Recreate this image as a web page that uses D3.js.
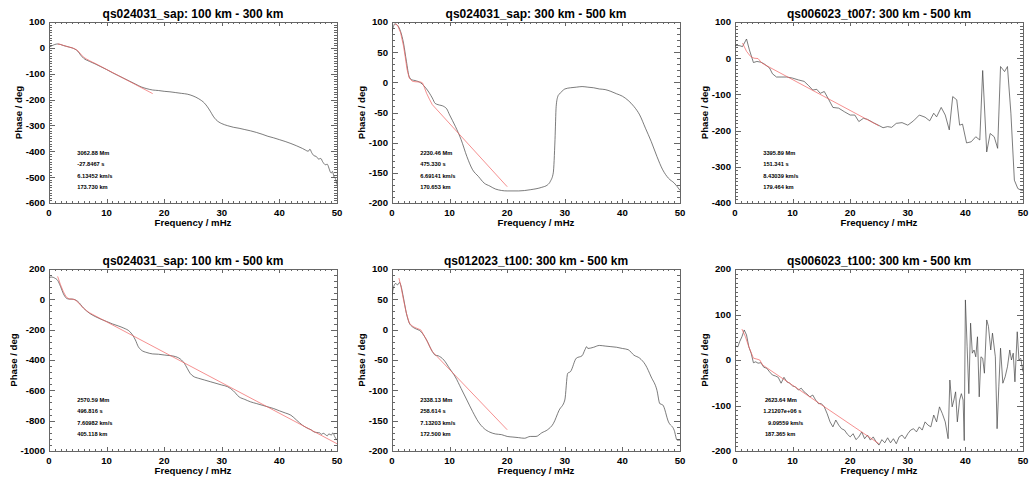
<!DOCTYPE html>
<html><head><meta charset="utf-8">
<script src="https://cdn.jsdelivr.net/npm/d3@7"></script>
<style>
body{margin:0;background:#fff;}
svg{display:block;font-family:"Liberation Sans",Arial,Helvetica,sans-serif;font-weight:bold;}
</style></head><body>
<svg id="c" width="1031" height="480"></svg>
<script>
// ---------- DATA ----------
const titles = [
  "qs024031_sap: 100 km - 300 km",
  "qs024031_sap: 300 km - 500 km",
  "qs006023_t007: 300 km - 500 km",
  "qs024031_sap: 100 km - 500 km",
  "qs012023_t100: 300 km - 500 km",
  "qs006023_t100: 300 km - 500 km"
];
const xLabel = "Frequency / mHz";
const yLabel = "Phase / deg";
const xTicks = [0, 10, 20, 30, 40, 50];

const p1YTicks = [-600, -500, -400, -300, -200, -100, 0, 100];
const p2YTicks = [-200, -150, -100, -50, 0, 50, 100];
const p3YTicks = [-400, -300, -200, -100, 0, 100];
const p4YTicks = [-1000, -800, -600, -400, -200, 0, 200];
const p5YTicks = [-200, -150, -100, -50, 0, 50, 100];
const p6YTicks = [-200, -100, 0, 100, 200];

const p1Notes = ["3062.88 Mm", "-27.8467 s", "6.13452 km/s", "173.730 km"];
const p2Notes = ["2230.46 Mm", "475.330 s", "6.69141 km/s", "170.653 km"];
const p3Notes = ["3395.89 Mm", "151.341 s", "8.43039 km/s", "179.464 km"];
const p4Notes = ["2570.59 Mm", "496.816 s", "7.60982 km/s", "405.118 km"];
const p5Notes = ["2338.13 Mm", "258.614 s", "7.13203 km/s", "172.500 km"];
const p6Notes = [" 2623.64 Mm", "1.21207e+06 s", "   9.09559 km/s", " 187.365 km"];

// [frequency mHz, phase deg]
const p1Black = [[0,2],[0.5,8],[1,13],[1.5,15],[2,13],[2.5,9],[3,6],[3.5,3],[4,0],[4.5,-5],[5,-13],[5.5,-28],[6,-40],[7,-52],[8,-62],[9,-73],[10,-84],[11,-96],[12,-107],[13,-118],[14,-129],[15,-140],[16,-151],[17,-158],[18,-163],[19,-165],[20,-168],[21,-170],[22,-173],[23,-176],[24,-179],[25,-186],[26,-197],[27,-214],[27.5,-228],[28,-245],[28.5,-264],[29,-278],[29.5,-287],[30,-293],[31,-301],[32,-307],[33,-311],[34,-316],[35,-321],[36,-327],[37,-334],[38,-342],[39,-348],[40,-355],[41,-362],[42,-370],[43,-379],[44,-389],[44.5,-395],[45,-400],[45.3,-392],[45.6,-405],[46,-417],[46.4,-420],[46.8,-430],[47.2,-428],[47.5,-440],[48,-452],[48.3,-450],[48.6,-465],[48.8,-478],[49,-484],[49.2,-478],[49.5,-500],[49.7,-505],[50,-529]];
const p1Red = [[1.5,15],[2,13],[2.5,9.5],[3,6],[3.5,3],[4,0],[4.5,-4],[5,-11],[5.5,-24],[6,-36],[6.5,-43],[7,-49],[7.5,-55],[8,-60],[18,-177]];

const p2Black = [[0,84],[0.3,94],[0.5,97],[1,94],[1.5,84],[2,65],[2.5,35],[3,9],[3.5,4],[4,3],[5,-1],[6,-11],[7,-26],[7.5,-35],[8,-37],[9,-40],[9.5,-44],[10,-54],[11,-73],[12,-95],[13,-123],[14,-145],[15,-156],[16,-167],[17,-172],[18,-177],[20,-180],[22,-180],[24,-178],[26,-174],[27,-170],[27.5,-164],[28,-150],[28.3,-95],[28.5,-40],[28.8,-23],[29,-20],[29.5,-15],[30,-11],[31,-9],[32,-8],[33,-7],[34,-8],[35,-9],[36,-11],[37,-12],[38,-15],[39,-19],[40,-23],[41,-30],[42,-40],[43,-54],[44,-76],[45,-98],[46,-123],[47,-145],[48,-159],[49,-167],[50,-179]];
const p2Red = [[0.5,97],[1,94],[1.5,82],[2,60],[2.3,42],[2.6,22],[3,7],[3.5,2],[4,1],[5,0.5],[5.3,-1],[5.6,-8],[6,-18],[6.5,-28],[7,-37],[20,-173]];

const p3Black = [[0,35],[0.7,35],[1.3,32],[2,53],[2.5,23],[3.2,-12],[3.8,-9],[4.5,-11],[5,-15],[6,-27],[6.5,-43],[7.2,-52],[8,-52],[9,-52],[10,-55],[11,-60],[12,-64],[12.8,-76],[13.5,-88],[14.2,-86],[14.8,-97],[15.5,-92],[16.3,-115],[17,-136],[18,-138],[19,-148],[20,-157],[20.8,-157],[21.5,-175],[22.3,-166],[23,-169],[24,-178],[25,-186],[25.7,-192],[26.5,-189],[27.2,-191],[28,-180],[29,-178],[30,-185],[31,-173],[32,-157],[33,-163],[33.8,-173],[34.5,-152],[35,-162],[35.8,-136],[36.5,-157],[37.2,-198],[37.8,-106],[38.5,-115],[39,-185],[39.5,-182],[40.2,-234],[41,-231],[41.8,-217],[42.5,-226],[43,-34],[43.7,-259],[44.3,-208],[45,-217],[45.6,-249],[46.1,-23],[46.8,-37],[47.3,-23],[47.9,-152],[48.5,-337],[49.1,-360],[49.7,-365],[50,-365]];
const p3Red = [[1.3,42],[2,19],[2.7,5],[3.3,0],[4,-1],[4.7,-14],[25,-187]];

const p4Black = [[0,145],[0.5,147],[1,140],[1.5,125],[2,85],[2.5,37],[3,8],[3.5,1.5],[4,1.5],[5,-14],[6,-58],[7,-91],[8,-113],[9,-131],[10,-146],[11,-162],[12,-175],[13,-190],[14,-212],[14.5,-235],[15,-268],[15.5,-312],[16,-334],[17,-351],[18,-360],[19,-362],[20,-367],[21,-371],[22,-378],[23,-400],[23.5,-422],[24,-455],[24.5,-488],[25,-506],[26,-521],[27,-532],[28,-543],[29,-554],[30,-565],[31,-576],[32,-603],[33,-643],[34,-660],[35,-676],[36,-687],[37,-698],[38,-709],[39,-720],[40,-735],[41,-749],[42,-764],[43,-797],[44,-830],[45,-852],[45.5,-860],[46,-874],[46.5,-878],[47,-881],[47.3,-890],[47.6,-883],[48,-892],[48.3,-900],[48.6,-887],[49,-895],[49.3,-880],[49.6,-905],[50,-929]];
const p4Red = [[1.5,151],[2,96],[2.5,50],[3,15],[3.5,3],[4,1.5],[4.5,-3],[5,-18],[5.5,-40],[6,-58],[6.5,-74],[7,-88],[50,-952]];

const p5Black = [[0,57],[0.3,71],[0.6,76],[1,74],[1.3,78],[1.5,74],[2,52],[2.5,27],[3,11],[3.5,5],[4,2],[5,-3],[6,-17],[7,-36],[7.5,-42],[8,-43],[9,-50],[10,-64],[11,-78],[12,-97],[13,-116],[14,-135],[15,-152],[16,-163],[17,-169],[18,-172],[19,-173],[20,-176],[21,-177],[22,-178],[23,-179],[24,-176],[25,-176],[26,-170],[27,-165],[28,-155],[29,-133],[30,-116],[30.5,-72],[31,-69],[32,-47],[33,-43],[33.5,-33],[33.8,-28],[34,-31],[35,-29],[36,-26],[37,-27],[38,-28],[39,-29],[40,-31],[41,-33],[42,-42],[43,-47],[44,-58],[45,-78],[46,-100],[46.5,-122],[47,-124],[48,-152],[49,-166],[49.5,-182],[50,-182]];
const p5Red = [[1.2,85],[1.5,74],[2,49],[2.5,27],[3,11],[3.5,6],[4,3.5],[5,-0.4],[5.5,-8.6],[6,-17],[6.5,-27],[7,-36],[20,-165]];

const p6Black = [[0,31],[0.5,29],[0.8,40],[1.2,51],[1.6,66],[2,55],[2.4,29],[2.8,15],[3.2,-6],[3.6,-4],[4,-7],[4.5,-6],[5,-16],[5.5,-18],[6,-26],[6.5,-33],[7,-35],[7.5,-38],[8,-51],[8.5,-38],[9,-48],[9.5,-51],[10,-57],[10.5,-59],[11,-66],[11.5,-62],[12,-70],[12.5,-75],[13,-81],[13.5,-77],[14,-88],[14.5,-96],[15,-96],[15.5,-103],[16,-118],[16.5,-136],[17,-147],[17.5,-132],[18,-143],[18.5,-151],[19,-154],[19.5,-163],[20,-169],[20.5,-162],[21,-175],[21.5,-169],[22,-158],[22.5,-173],[23,-165],[23.5,-176],[24,-169],[24.5,-180],[25,-187],[25.5,-175],[26,-182],[26.5,-171],[27,-182],[27.5,-173],[28,-184],[28.5,-169],[29,-165],[29.5,-173],[30,-162],[30.5,-154],[31,-151],[31.5,-158],[32,-147],[32.5,-154],[33,-136],[33.5,-143],[34,-147],[34.5,-121],[35,-136],[35.5,-103],[36,-118],[36.5,-136],[37,-173],[37.3,-44],[37.7,-103],[38,-88],[38.3,-70],[38.6,-136],[39,-88],[39.3,-74],[39.6,-88],[39.8,-177],[40,132],[40.3,29],[40.6,-74],[40.9,81],[41.2,15],[41.5,22],[41.8,7],[42.1,51],[42.4,-81],[42.7,7],[43,4],[43.3,-29],[43.7,88],[44,74],[44.4,22],[44.7,59],[45.2,7],[45.5,-151],[45.8,-59],[46.1,26],[46.5,-51],[46.9,-37],[47.3,-15],[47.7,22],[48,0],[48.3,15],[48.6,-48],[49,62],[49.3,0],[49.6,4],[50,-26]];
const p6Red = [[1.2,68],[1.8,51.5],[2.4,29],[3.2,4],[3.8,2],[4.3,0],[4.8,-11],[25,-184]];

// ---------- PANELS ----------
const panels = [
  {title: titles[0], black: p1Black, red: p1Red, notes: p1Notes, yTicks: p1YTicks, minor: 10, smooth: true},
  {title: titles[1], black: p2Black, red: p2Red, notes: p2Notes, yTicks: p2YTicks, minor: 5, smooth: true},
  {title: titles[2], black: p3Black, red: p3Red, notes: p3Notes, yTicks: p3YTicks, minor: 10, smooth: false},
  {title: titles[3], black: p4Black, red: p4Red, notes: p4Notes, yTicks: p4YTicks, minor: 5, smooth: true},
  {title: titles[4], black: p5Black, red: p5Red, notes: p5Notes, yTicks: p5YTicks, minor: 5, smooth: true},
  {title: titles[5], black: p6Black, red: p6Red, notes: p6Notes, yTicks: p6YTicks, minor: 10, smooth: false}
];

const svg = d3.select("#c");
const colX = [0, 343, 686];
const rows = [{top: 22, bottom: 203}, {top: 269, bottom: 451}];
const axisColor = "#666";

panels.forEach((p, i) => {
  const ox = colX[i % 3];
  const row = rows[Math.floor(i / 3)];
  const left = ox + 49, right = ox + 337;
  const top = row.top, bottom = row.bottom;
  const yDom = d3.extent(p.yTicks);
  const x = d3.scaleLinear().domain([0, 50]).range([left, right]);
  const y = d3.scaleLinear().domain(yDom).range([bottom, top]);
  const g = svg.append("g");

  const cid = "clip" + i;
  svg.append("clipPath").attr("id", cid).append("rect")
    .attr("x", left).attr("y", top).attr("width", right - left).attr("height", bottom - top);
  const tid = "tclip" + i;
  svg.append("clipPath").attr("id", tid).append("rect")
    .attr("x", ox + 10).attr("y", 0).attr("width", 340).attr("height", 480);

  // ticks
  const tg = g.append("g").attr("stroke", axisColor).attr("stroke-width", 1).attr("shape-rendering", "crispEdges");
  const xMajLen = 0.02 * (bottom - top), yMajLen = 0.02 * (right - left);
  d3.range(0, 51, 1).forEach(v => {
    const len = v % 10 === 0 ? xMajLen : xMajLen / 2;
    const px = Math.round(x(v)) + 0.5;
    tg.append("line").attr("x1", px).attr("x2", px).attr("y1", bottom).attr("y2", bottom - len);
    tg.append("line").attr("x1", px).attr("x2", px).attr("y1", top).attr("y2", top + len);
  });
  const step = p.yTicks[1] - p.yTicks[0];
  const mstep = step / p.minor;
  const nMin = Math.round((yDom[1] - yDom[0]) / mstep);
  for (let k = 0; k <= nMin; k++) {
    const v = yDom[0] + k * mstep;
    const len = k % p.minor === 0 ? yMajLen : yMajLen / 2;
    const py = Math.round(y(v)) + 0.5;
    tg.append("line").attr("x1", left).attr("x2", left + len).attr("y1", py).attr("y2", py);
    tg.append("line").attr("x1", right).attr("x2", right - len).attr("y1", py).attr("y2", py);
  }
  g.append("rect").attr("x", left + 0.5).attr("y", top + 0.5)
    .attr("width", right - left).attr("height", bottom - top)
    .attr("fill", "none").attr("stroke", axisColor).attr("stroke-width", 1)
    .attr("shape-rendering", "crispEdges");

  // lines
  const lineB = d3.line().x(d => x(d[0])).y(d => y(d[1]))
    .curve(p.smooth ? d3.curveMonotoneX : d3.curveLinear);
  const lineR = d3.line().x(d => x(d[0])).y(d => y(d[1])).curve(d3.curveLinear);
  const lg = g.append("g").attr("clip-path", `url(#${cid})`);
  lg.append("path").attr("d", lineB(p.black)).attr("fill", "none")
    .attr("stroke", "#444").attr("stroke-width", 0.7);
  lg.append("path").attr("d", lineR(p.red)).attr("fill", "none")
    .attr("stroke", "#f06060").attr("stroke-width", 0.7);

  // tick labels
  xTicks.forEach(v => {
    g.append("text").attr("x", x(v)).attr("y", bottom + 9.5).attr("dy", "0.35em")
      .attr("text-anchor", "middle").attr("font-size", 9.6).attr("fill", "#000").text(v);
  });
  let maxW = 0;
  p.yTicks.forEach(v => {
    const t = g.append("text").attr("x", left - 4).attr("y", y(v)).attr("dy", "0.35em")
      .attr("text-anchor", "end").attr("font-size", 9.6).attr("fill", "#000").text(v);
    maxW = Math.max(maxW, t.node().getComputedTextLength());
  });

  // titles
  g.append("text").attr("x", (left + right) / 2).attr("y", top - 8).attr("dy", "0.35em")
    .attr("text-anchor", "middle").attr("font-size", 12).attr("fill", "#000").text(p.title);
  g.append("text").attr("x", (left + right) / 2).attr("y", bottom + 19.6).attr("dy", "0.35em")
    .attr("text-anchor", "middle").attr("font-size", 9.6).attr("fill", "#000").text(xLabel);
  const yx = left - 4 - maxW - 7;
  g.append("g").attr("clip-path", `url(#${tid})`).append("text")
    .attr("transform", `translate(${yx},${(top + bottom) / 2}) rotate(-90)`)
    .attr("dy", "0.35em").attr("text-anchor", "middle").attr("font-size", 9.6)
    .attr("fill", "#000").text(yLabel);

  // notes
  p.notes.forEach((s, k) => {
    g.append("text").attr("x", left + 28.3).attr("y", top + 131.3 + k * 11.2).attr("dy", "0.35em")
      .attr("font-size", 5.7).attr("fill", "#000").style("white-space", "pre").text(s);
  });
});
</script>
</body></html>
